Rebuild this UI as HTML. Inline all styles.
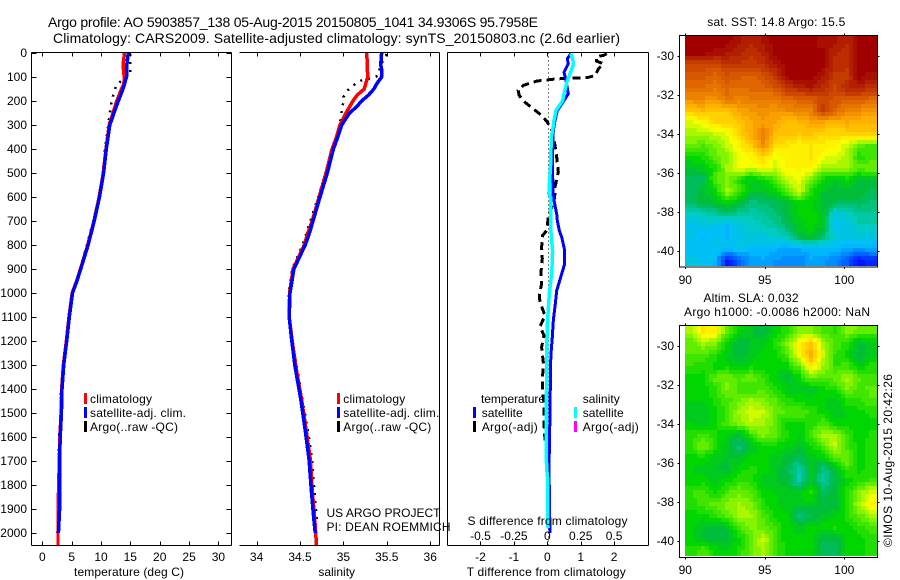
<!DOCTYPE html>
<html lang="en">
<head>
<meta charset="utf-8">
<title>Argo profile 5903857_138</title>
<style>
html,body{margin:0;padding:0;background:#fff;}
svg{display:block;}
text{font-family:"Liberation Sans",sans-serif;font-size:12px;fill:#000;}
.t14{font-size:14px;}
.line{fill:none;shape-rendering:crispEdges;}
.ax{stroke:#000;stroke-width:1;fill:none;shape-rendering:crispEdges;}
</style>
</head>
<body>
<svg id="fig" xmlns="http://www.w3.org/2000/svg" width="900" height="580" viewBox="0 0 900 580">
  <rect x="0" y="0" width="900" height="580" fill="#fff"/>
  <text class="t14" x="48" y="27" textLength="490" lengthAdjust="spacing">Argo profile: AO 5903857_138 05-Aug-2015 20150805_1041 34.9306S 95.7958E</text>
  <text class="t14" x="53" y="43" textLength="567" lengthAdjust="spacing">Climatology: CARS2009. Satellite-adjusted climatology: synTS_20150803.nc (2.6d earlier)</text>

  <g id="panel-t"></g>
  <g id="panel-s"></g>
  <g id="panel-d"></g>
  <g id="map-sst"></g>
  <g id="map-sla"></g>

  <text x="74" y="576" textLength="110">temperature (deg C)</text>
  <text x="336.7" y="576" text-anchor="middle">salinity</text>
  <text x="466.7" y="576" textLength="159">T difference from climatology</text>
  <text x="467.5" y="525" textLength="160">S difference from climatology</text>

  <g>
    <rect x="84" y="393" width="3" height="11" fill="#ff0000"/>
    <text x="90" y="403" textLength="62">climatology</text>
    <rect x="84" y="407" width="3" height="11" fill="#0000ff"/>
    <text x="90" y="417" textLength="96">satellite-adj. clim.</text>
    <rect x="84" y="421" width="3" height="11" fill="#000"/>
    <text x="90" y="431" textLength="88">Argo(..raw -QC)</text>
  </g>
  <g>
    <rect x="337" y="393" width="3" height="11" fill="#ff0000"/>
    <text x="343.3" y="403" textLength="62">climatology</text>
    <rect x="337" y="407" width="3" height="11" fill="#0000ff"/>
    <text x="343.3" y="417" textLength="96">satellite-adj. clim.</text>
    <rect x="337" y="421" width="3" height="11" fill="#000"/>
    <text x="343.3" y="431" textLength="88">Argo(..raw -QC)</text>
  </g>
  <g>
    <text x="481" y="403" textLength="64">temperature</text>
    <rect x="473" y="407" width="3" height="11" fill="#0000ff"/>
    <text x="481.7" y="417" textLength="41">satellite</text>
    <rect x="473" y="421" width="3" height="11" fill="#000"/>
    <text x="481.7" y="431" textLength="56">Argo(-adj)</text>
    <text x="582.7" y="403" textLength="37">salinity</text>
    <rect x="574" y="407" width="3" height="11" fill="#00ffff"/>
    <text x="582.7" y="417" textLength="41">satellite</text>
    <rect x="574" y="421" width="3" height="11" fill="#ff00ff"/>
    <text x="582.7" y="431" textLength="56">Argo(-adj)</text>
  </g>

  <text x="326.5" y="517" textLength="114">US ARGO PROJECT</text>
  <text x="326.5" y="531" textLength="124">PI: DEAN ROEMMICH</text>

  <text x="707.3" y="26" textLength="138">sat. SST: 14.8 Argo: 15.5</text>
  <text x="703.5" y="302" textLength="95">Altim. SLA: 0.032</text>
  <text x="684" y="316" textLength="186">Argo h1000: -0.0086 h2000: NaN</text>
  <text transform="translate(892,547) rotate(-90)" textLength="173">©IMOS 10-Aug-2015 20:42:26</text>
</svg>

<script>
/* ---------- profile data ---------- */
const depthTicks = [0,100,200,300,400,500,600,700,800,900,1000,1100,1200,1300,1400,1500,1600,1700,1800,1900,2000];
const tempTicks = [0,5,10,15,20,25,30];
const salTicks = [34,34.5,35,35.5,36];
const salTickLabels = ['34','34.5','35','35.5','36'];
const tDiffTicks = [-2,-1,0,1,2];
const sDiffTicks = [-0.5,-0.25,0,0.25,0.5];
const sDiffTickLabels = ['-0.5','-0.25','0','0.25','0.5'];

const tempClimDepth = [0,50,100,130,150,200,300,400,500,600,700,800,900,950,1000,1100,1200,1300,1400,1500,1600,1700,1800,1900,2000,2050];
const tempClim = [14,13.75,13.95,13.9,13.5,12.7,11.4,10.85,10.4,9.7,8.8,7.75,6.5,5.85,5.1,4.55,4.1,3.6,3.3,3.2,3.0,2.9,2.8,2.7,2.68,2.68];
const tempSatDepth = [0,50,100,150,200,250,300,400,500,600,700,800,900,950,1000,1100,1200,1300,1400,1500,1600,1700,1800,1900,2000];
const tempSat = [14.65,14.4,14.35,13.75,12.95,12.2,11.5,10.9,10.45,9.75,8.85,7.8,6.55,5.9,5.15,4.6,4.15,3.65,3.35,3.25,3.05,2.95,2.95,2.95,2.75];
const tempArgoDepth = [5,90,130,150,200,250,300,400,500,600,700,800,900,950,1000,1100,1200,1300,1400,1500,1600,1700,1800,1900];
const tempArgo = [15,15,12.7,12.4,11.8,11.5,11.25,10.7,10.3,9.6,8.7,7.6,6.4,5.75,5,4.5,4.05,3.55,3.2,3.1,2.9,2.8,2.7,2.7];

const salClimDepth = [0,100,125,150,175,200,250,300,350,400,500,600,700,750,800,900,1000,1100,1200,1300,1322,1446,1571,1696,1821,1946,2050];
const salClim = [35.27,35.28,35.26,35.24,35.16,35.11,35.03,34.96,34.92,34.87,34.8,34.72,34.64,34.59,34.55,34.42,34.38,34.375,34.41,34.45,34.46,34.52,34.57,34.62,34.64,34.67,34.69];
const salSatDepth = [0,50,75,100,125,150,175,200,225,250,300,350,400,500,600,700,750,800,900,1000,1100,1200,1300,1322,1446,1571,1696,1821,1946,2000];
const salSat = [35.44,35.43,35.445,35.44,35.39,35.35,35.29,35.21,35.15,35.07,34.98,34.935,34.885,34.815,34.73,34.65,34.61,34.56,34.43,34.385,34.375,34.405,34.44,34.45,34.51,34.56,34.605,34.63,34.66,34.675];
const salArgoDepth = [5,15,50,94,101,108,112,128,156,184,205,240,274,309,400,500,600,700,800,900,1000,1100,1200,1300,1450,1570,1700,1820,1950];
const salArgo = [35.5,35.48,35.43,35.4,35.36,35.29,35.22,35.14,35.05,35,35,34.98,34.97,34.95,34.87,34.8,34.71,34.62,34.53,34.41,34.37,34.37,34.41,34.46,34.53,34.59,34.64,34.665,34.695];

const tDiffSatDepth = [3,24,45,80,115,170,198,240,281,323,462,601,670,698,740,767,823,878,934,990,1045,1115,1184,1253,1322,1392,1500,1730,2000];
const tDiffSat = [0.7,0.6,0.63,0.5,0.56,0.63,0.5,0.3,0.23,0.18,0.15,0.18,0.28,0.3,0.36,0.43,0.52,0.52,0.4,0.28,0.24,0.18,0.15,0.11,0.09,0.09,0.08,0.05,0.08];
const sDiffSatDepth = [3,24,45,73,115,170,198,240,281,323,351,462,587,601,740,767,823,878,934,990,1045,1115,1184,1253,1322,1392,1490,1570,1730,1770,1960,1980];
const sDiffSat = [0.175,0.19,0.195,0.18,0.15,0.125,0.115,0.065,0.05,0.04,0.03,0.025,0.012,0.025,0.027,0.03,0.04,0.037,0.03,0.017,0.01,0.002,-0.002,-0.005,-0.005,-0.005,-0.01,-0.01,-0.005,0.002,0.002,0.007];
const tDiffArgoDepth = [3,10,15,34,45,66,94,103,105,108,110,117,135,156,177,205,233,260,284,316,351,385,434,496,559,587,615,684,740,760,809,857,913,962,1010,1038,1094,1140,1177,1226,1288,1351,1392,1462,1545,1615];
const tDiffArgo = [1.78,1.68,1.48,1.48,1.68,1.53,1.43,1.18,0.73,0.28,0.13,-0.32,-0.72,-0.87,-0.84,-0.67,-0.42,-0.17,-0.02,0.13,0.18,0.23,0.28,0.33,0.23,0.23,0.2,0.03,-0.02,-0.14,-0.17,-0.15,-0.19,-0.17,-0.24,-0.22,-0.07,-0.22,-0.1,-0.17,-0.12,-0.14,-0.15,-0.1,-0.1,-0.07];

/* ---------- map data (colour-scale position, rows north to south) ---------- */
const mapLonTicks = [90,95,100];
const mapLatTicks = [-30,-32,-34,-36,-38,-40];
const sstGrid = [
[1,1,1,1,.97,.95,.97,1,1,1,1,.97,.97,.95,1,1],
[1,1,.98,.97,.95,.93,.95,1,1,1,1,1,.95,.93,1,1],
[.9,.9,.9,.92,.92,.92,.93,.97,1,1,1,1,.94,.93,1,1],
[.87,.87,.85,.88,.87,.86,.88,.92,1,1,1,.97,.92,.92,1,.98],
[.84,.84,.83,.85,.84,.85,.85,.88,.93,.95,.97,.94,.9,.95,.96,.93],
[.8,.8,.78,.84,.81,.82,.82,.82,.85,.86,.86,.9,.88,.87,.87,.85],
[.72,.74,.72,.72,.77,.78,.8,.78,.8,.8,.82,.92,.86,.8,.8,.78],
[.63,.66,.7,.7,.72,.75,.78,.76,.73,.74,.76,.76,.75,.76,.74,.74],
[.6,.6,.62,.64,.7,.76,.82,.74,.72,.72,.72,.7,.7,.7,.72,.72],
[.57,.55,.58,.62,.66,.72,.8,.7,.68,.66,.68,.67,.66,.62,.56,.55],
[.5,.52,.56,.58,.64,.66,.7,.64,.66,.67,.68,.64,.63,.6,.52,.54],
[.47,.48,.52,.6,.65,.63,.65,.62,.66,.66,.67,.6,.6,.6,.56,.58],
[.43,.44,.55,.58,.52,.47,.5,.55,.62,.64,.56,.5,.47,.5,.46,.46],
[.43,.46,.5,.6,.55,.47,.47,.5,.56,.63,.52,.47,.46,.46,.46,.44],
[.44,.46,.47,.5,.46,.42,.43,.44,.46,.5,.5,.46,.45,.44,.44,.42],
[.37,.38,.4,.42,.4,.39,.4,.42,.46,.49,.5,.47,.34,.37,.4,.4],
[.32,.33,.32,.3,.34,.37,.38,.4,.43,.48,.5,.47,.31,.33,.38,.38],
[.33,.3,.32,.3,.33,.35,.34,.36,.38,.45,.48,.42,.35,.33,.35,.33],
[.3,.31,.33,.31,.33,.3,.3,.29,.27,.28,.3,.3,.3,.28,.27,.28],
[.34,.32,.3,.12,.2,.27,.28,.26,.25,.24,.28,.27,.24,.2,.12,.15]
];
const slaGrid = [
[.6,.68,.67,.56,.5,.47,.45,.5,.52,.58,.58,.55,.53,.58,.57,.56],
[.56,.6,.58,.5,.45,.47,.48,.52,.58,.66,.72,.6,.55,.52,.45,.48],
[.55,.55,.52,.48,.45,.48,.5,.5,.55,.66,.76,.62,.53,.5,.45,.48],
[.53,.52,.5,.5,.48,.5,.5,.49,.5,.56,.68,.6,.53,.54,.48,.52],
[.5,.5,.56,.57,.55,.57,.53,.49,.46,.5,.57,.55,.56,.6,.56,.54],
[.49,.5,.52,.58,.54,.53,.55,.52,.48,.48,.47,.5,.52,.58,.54,.56],
[.49,.49,.52,.54,.57,.6,.58,.56,.52,.5,.5,.49,.47,.52,.53,.55],
[.48,.47,.5,.54,.6,.63,.62,.56,.55,.55,.53,.5,.47,.49,.5,.52],
[.49,.48,.5,.55,.58,.61,.6,.56,.5,.5,.52,.55,.5,.5,.5,.5],
[.52,.54,.52,.48,.45,.53,.58,.56,.52,.49,.55,.6,.6,.54,.49,.52],
[.53,.58,.52,.47,.42,.47,.5,.5,.49,.47,.5,.55,.62,.54,.5,.52],
[.5,.5,.48,.47,.47,.5,.5,.48,.46,.44,.48,.48,.55,.58,.5,.52],
[.49,.48,.47,.46,.5,.52,.5,.48,.44,.39,.47,.41,.46,.53,.5,.52],
[.5,.5,.48,.5,.53,.52,.48,.47,.46,.38,.47,.4,.45,.5,.52,.54],
[.53,.55,.5,.55,.57,.55,.5,.49,.48,.49,.52,.44,.46,.53,.58,.64],
[.52,.54,.56,.58,.6,.58,.52,.49,.48,.48,.48,.46,.45,.52,.6,.66],
[.5,.5,.52,.56,.6,.6,.55,.5,.49,.42,.44,.47,.48,.52,.56,.6],
[.5,.47,.46,.47,.55,.58,.56,.53,.5,.47,.5,.5,.52,.5,.52,.54],
[.49,.46,.45,.46,.5,.56,.62,.55,.49,.5,.49,.45,.45,.5,.5,.52],
[.52,.55,.5,.49,.52,.56,.6,.54,.5,.5,.5,.44,.44,.5,.5,.52]
];

/* ---------- axis functions ---------- */
const NS = 'http://www.w3.org/2000/svg';
const AX_TOP = 52.5, AX_BOTTOM = 545.5;
function yDepth(d){ return 53 + 0.24*d; }
function xTemp(v){ return 42.3 + 5.87*v; }
function xSal(v){ return 256.6 + 86.8*(v-34); }
function xTDiff(v){ return 547.3 + 33.4*v; }
function xSDiff(v){ return 547.3 + 133.6*v; }

function mk(tag, parent, attrs, txt){
  const el = document.createElementNS(NS, tag);
  for (const k in attrs) el.setAttribute(k, attrs[k]);
  if (txt !== undefined) el.textContent = txt;
  parent.appendChild(el);
  return el;
}
function pts(depths, vals, xf){
  return depths.map((d,i)=>xf(vals[i]).toFixed(1)+','+yDepth(d).toFixed(1)).join(' ');
}

/* ---------- line profiles ---------- */
function drawProfile(parent, name, depths, vals, xf, color, width, dash){
  const attrs = {class:'line', points:pts(depths, vals, xf), stroke:color, 'stroke-width':width};
  if (dash) attrs['stroke-dasharray'] = dash;
  const el = mk('polyline', parent, attrs);
  
  
}

function drawBox(parent, x0, x1, hasLeft){
  const top = mk('line', parent, {class:'ax', x1:x0, x2:x1, y1:AX_TOP, y2:AX_TOP});
  
  
  const bot = mk('line', parent, {class:'ax', x1:x0, x2:x1, y1:AX_BOTTOM, y2:AX_BOTTOM});
  
  
  const right = mk('line', parent, {class:'ax', x1:x1, x2:x1, y1:AX_TOP, y2:AX_BOTTOM});
  
  
  if (hasLeft){
    const left = mk('line', parent, {class:'ax', x1:x0, x2:x0, y1:AX_TOP, y2:AX_BOTTOM});
    
    
  }
}
function drawXTicks(parent, ticks, xf){
  ticks.forEach(v=>{
    const x = Math.round(xf(v)) + 0.5;
    const a = mk('line', parent, {class:'ax', x1:x, x2:x, y1:AX_TOP, y2:AX_TOP+4});
    
    
    const b = mk('line', parent, {class:'ax', x1:x, x2:x, y1:AX_BOTTOM-4, y2:AX_BOTTOM});
    
    
  });
}
function drawXLabels(parent, ticks, labels, xf, y, name){
  ticks.forEach((v,i)=>{
    const t = mk('text', parent, {x:xf(v).toFixed(1), y:y, 'text-anchor':'middle'}, labels[i]);
    
    
  });
}

/* temperature panel */
const pT = document.getElementById('panel-t');
drawProfile(pT, 'argo-temperature-line', tempArgoDepth, tempArgo, xTemp, '#000', 2.5, '2 6');
drawProfile(pT, 'climatology-temperature-line', tempClimDepth, tempClim, xTemp, '#ff0000', 3.5);
drawProfile(pT, 'satellite-temperature-line', tempSatDepth, tempSat, xTemp, '#0000ff', 3.5);
drawBox(pT, 31.5, 231.5, true);
drawXTicks(pT, tempTicks, xTemp);
drawXLabels(pT, tempTicks, tempTicks.map(String), xTemp, 561, 'temperature-tick-label');
depthTicks.forEach(d=>{
  const y = Math.round(yDepth(d)) + 0.5;
  const a = mk('line', pT, {class:'ax', x1:31.5, x2:36.5, y1:y, y2:y});
  
  
  const b = mk('line', pT, {class:'ax', x1:226.5, x2:231.5, y1:y, y2:y});
  
  
  const t = mk('text', pT, {x:27, y:yDepth(d)+4, 'text-anchor':'end'}, String(d));
  
  
});

/* salinity panel */
const pS = document.getElementById('panel-s');
drawProfile(pS, 'argo-salinity-line', salArgoDepth, salArgo, xSal, '#000', 2.5, '2 6');
drawProfile(pS, 'climatology-salinity-line', salClimDepth, salClim, xSal, '#ff0000', 3.5);
drawProfile(pS, 'satellite-salinity-line', salSatDepth, salSat, xSal, '#0000ff', 3.5);
drawBox(pS, 239.5, 439.5, false);
drawXTicks(pS, salTicks, xSal);
drawXLabels(pS, salTicks, salTickLabels, xSal, 561, 'salinity-tick-label');

/* difference panel */
const pD = document.getElementById('panel-d');
const zeroLine = mk('line', pD, {x1:548.5, x2:548.5, y1:AX_TOP, y2:AX_BOTTOM, stroke:'#000', 'stroke-width':1, 'stroke-dasharray':'1 3', 'shape-rendering':'crispEdges'});


drawProfile(pD, 'argo-t-difference-line', tDiffArgoDepth, tDiffArgo, xTDiff, '#000', 3, '8 5');
drawProfile(pD, 'satellite-t-difference-line', tDiffSatDepth, tDiffSat, xTDiff, '#0000ff', 3);
drawProfile(pD, 'satellite-s-difference-line', sDiffSatDepth, sDiffSat, xSDiff, '#00ffff', 3.5);
drawBox(pD, 447.5, 648.5, true);
drawXTicks(pD, tDiffTicks, xTDiff);
drawXLabels(pD, tDiffTicks, tDiffTicks.map(String), xTDiff, 561, 't-difference-tick-label');
drawXLabels(pD, sDiffTicks, sDiffTickLabels, xSDiff, 540, 's-difference-tick-label');

/* ---------- maps ---------- */
const palStops = [
 [0,[0,0,144]],[.1,[0,0,255]],[.2,[0,90,255]],[.3,[0,190,255]],[.38,[0,205,190]],
 [.45,[0,185,70]],[.5,[0,215,0]],[.57,[110,240,0]],[.65,[255,255,0]],[.75,[255,176,0]],
 [.85,[224,104,0]],[.93,[190,50,0]],[1,[160,0,0]]
];
function palette(v){
  const q = Math.max(0, Math.min(1, Math.round(v*48)/48));
  for (let i=1;i<palStops.length;i++){
    if (q <= palStops[i][0]){
      const a = palStops[i-1], b = palStops[i];
      const f = (q-a[0])/(b[0]-a[0]);
      const c = a[1].map((u,k)=>Math.round(u+(b[1][k]-u)*f));
      return 'rgb('+c.join(',')+')';
    }
  }
  return 'rgb(160,0,0)';
}
function sampleGrid(g, fx, fy){
  const ny = g.length, nx = g[0].length;
  const cx = Math.max(0, Math.min(nx-1, fx*nx-0.5));
  const cy = Math.max(0, Math.min(ny-1, fy*ny-0.5));
  const i0 = Math.floor(cx), j0 = Math.floor(cy);
  const i1 = Math.min(nx-1, i0+1), j1 = Math.min(ny-1, j0+1);
  const tx = cx-i0, ty = cy-j0;
  return (g[j0][i0]*(1-tx)+g[j0][i1]*tx)*(1-ty) + (g[j1][i0]*(1-tx)+g[j1][i1]*tx)*ty;
}
function drawMap(id, grid, cfg, labelY){
  const root = document.getElementById(id);
  const lonX = v => 685.3 + (v-90)*15.9;
  const latY = v => cfg.y30 + (-30-v)*19.5;
  const step = 4;
  const w = 877 - 685, h = cfg.dataBottom - cfg.top;
  for (let y=0; y<h; y+=step){
    for (let x=0; x<w; x+=step){
      const val = sampleGrid(grid, (x+step/2)/w, (y+step/2)/h);
      const r = mk('rect', root, {x:685+x, y:cfg.top+y, width:Math.min(step,w-x), height:Math.min(step,h-y), fill:palette(val), 'shape-rendering':'crispEdges'});
      
      
    }
  }
  const frame = mk('rect', root, {class:'ax', x:679.5, y:cfg.top-0.5, width:198, height:cfg.bottom-cfg.top+0.5});
  
  
  mapLonTicks.forEach(v=>{
    const x = Math.round(lonX(v))+0.5;
    const a = mk('line', root, {class:'ax', x1:x, x2:x, y1:cfg.top-2.5, y2:cfg.top-0.5});
    
    
    const b = mk('line', root, {class:'ax', x1:x, x2:x, y1:cfg.bottom, y2:cfg.bottom+2});
    
    
    const t = mk('text', root, {x:lonX(v).toFixed(1), y:labelY, 'text-anchor':'middle'}, String(v));
    
    
  });
  mapLatTicks.forEach(v=>{
    const y = Math.round(latY(v))+0.5;
    const a = mk('line', root, {class:'ax', x1:677.5, x2:679.5, y1:y, y2:y});
    
    
    const b = mk('line', root, {class:'ax', x1:877.5, x2:879.5, y1:y, y2:y});
    
    
    const t = mk('text', root, {x:674, y:latY(v)+4, 'text-anchor':'end'}, String(v));
    
    
  });
}
const sstCfg = {top:36, dataBottom:266, bottom:267, y30:56};
const slaCfg = {top:326, dataBottom:556, bottom:557.5, y30:346};
drawMap('map-sst', sstGrid, sstCfg, 284);
drawMap('map-sla', slaGrid, slaCfg, 574);
</script>
</body>
</html>
